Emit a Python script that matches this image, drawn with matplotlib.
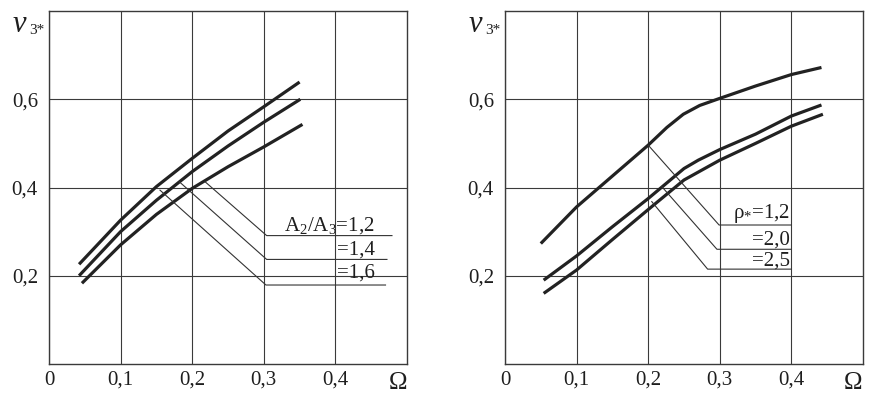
import numpy as np
import matplotlib.pyplot as plt

plt.rcParams['font.family'] = ['Liberation Serif', 'DejaVu Serif']
plt.rcParams['mathtext.fontset'] = 'custom'
plt.rcParams['mathtext.rm'] = 'Liberation Serif'
plt.rcParams['mathtext.it'] = 'Liberation Serif:italic'

# Left panel: v3* vs Omega for different A2/A3
left_x_12 = [0.042, 0.10, 0.15, 0.20, 0.25, 0.30, 0.350]
left_y_12 = [0.226, 0.326, 0.402, 0.466, 0.528, 0.583, 0.639]
left_x_14 = [0.042, 0.10, 0.15, 0.20, 0.25, 0.30, 0.351]
left_y_14 = [0.200, 0.300, 0.371, 0.436, 0.494, 0.548, 0.600]
left_x_16 = [0.046, 0.10, 0.15, 0.20, 0.25, 0.30, 0.354]
left_y_16 = [0.183, 0.270, 0.339, 0.398, 0.447, 0.492, 0.543]
left_labels = ['A$_2$/A$_3$=1,2', '=1,4', '=1,6']
# leader lines: start on curve, knee, end of shelf
left_lead_x = [[0.218, 0.304, 0.479], [0.182, 0.304, 0.472], [0.155, 0.303, 0.470]]
left_lead_y = [[0.413, 0.291, 0.291], [0.413, 0.237, 0.237], [0.394, 0.179, 0.179]]
left_text_y = [0.302, 0.247, 0.195]

# Right panel: v3* vs Omega for different rho*
right_x_12 = [0.050, 0.10, 0.15, 0.20, 0.226, 0.249, 0.272, 0.30, 0.35, 0.40, 0.442]
right_y_12 = [0.273, 0.356, 0.426, 0.496, 0.536, 0.566, 0.586, 0.602, 0.630, 0.656, 0.672]
right_x_20 = [0.054, 0.10, 0.15, 0.20, 0.25, 0.27, 0.30, 0.35, 0.40, 0.442]
right_y_20 = [0.190, 0.245, 0.311, 0.375, 0.443, 0.462, 0.486, 0.521, 0.562, 0.587]
right_x_25 = [0.054, 0.10, 0.15, 0.20, 0.25, 0.30, 0.35, 0.40, 0.444]
right_y_25 = [0.160, 0.213, 0.282, 0.350, 0.417, 0.462, 0.500, 0.539, 0.566]
right_labels = ['ρ$_{*}$=1,2', '=2,0', '=2,5']
right_lead_x = [[0.200, 0.299, 0.400], [0.219, 0.296, 0.400], [0.205, 0.283, 0.400]]
right_lead_y = [[0.496, 0.315, 0.315], [0.402, 0.260, 0.260], [0.368, 0.215, 0.215]]
right_text_y = [0.330, 0.270, 0.222]

xticks = [0, 0.1, 0.2, 0.3, 0.4]
xtick_labels = ['0', '0,1', '0,2', '0,3', '0,4']
yticks = [0.2, 0.4, 0.6]
ytick_labels = ['0,2', '0,4', '0,6']

fig = plt.figure(figsize=(8.71, 3.97), dpi=100)
ax1 = fig.add_axes([49 / 871, 33 / 397, 358 / 871, 353 / 397])
ax2 = fig.add_axes([505 / 871, 33 / 397, 358 / 871, 353 / 397])

gcol = '#3a3a3a'
tcol = '#1e1e1e'


def setup(ax, omega_x):
    ax.set_xlim(0, 0.5)
    ax.set_ylim(0, 0.8)
    ax.set_xticks(xticks)
    ax.set_xticklabels(xtick_labels)
    ax.set_yticks(yticks)
    ax.set_yticklabels(ytick_labels)
    ax.tick_params(length=0, labelsize=15, colors=tcol)
    ax.tick_params(axis='x', pad=5)
    ax.tick_params(axis='y', pad=8)
    ax.grid(True, color=gcol, lw=0.8)
    for s in ax.spines.values():
        s.set_color(gcol)
        s.set_linewidth(1.0)
    ax.text(omega_x, -0.054, 'Ω', transform=ax.transAxes, ha='right',
            va='center', fontsize=18, color=tcol)
    ax.text(-0.0505, 0.752, 'v', style='italic', fontsize=22, ha='left',
            va='baseline', color=tcol)
    ax.text(-0.028, 0.748, '3*', fontsize=11, ha='left', va='baseline',
            color=tcol)


setup(ax1, 1.0)
setup(ax2, 0.998)

for xs, ys in [(left_x_12, left_y_12), (left_x_14, left_y_14), (left_x_16, left_y_16)]:
    ax1.plot(xs, ys, color='#222222', lw=2.3, solid_capstyle='butt')
for lx, ly in zip(left_lead_x, left_lead_y):
    ax1.plot(lx, ly, color='#333333', lw=0.8)
for lab, ty in zip(left_labels, left_text_y):
    ax1.text(0.455, ty, lab, fontsize=15, ha='right', va='baseline', color=tcol)

for xs, ys in [(right_x_12, right_y_12), (right_x_20, right_y_20), (right_x_25, right_y_25)]:
    ax2.plot(xs, ys, color='#222222', lw=2.3, solid_capstyle='butt')
for lx, ly in zip(right_lead_x, right_lead_y):
    ax2.plot(lx, ly, color='#333333', lw=0.8)
for lab, ty in zip(right_labels, right_text_y):
    ax2.text(0.398, ty, lab, fontsize=15, ha='right', va='baseline', color=tcol)

fig.savefig('out.png', dpi=100)
